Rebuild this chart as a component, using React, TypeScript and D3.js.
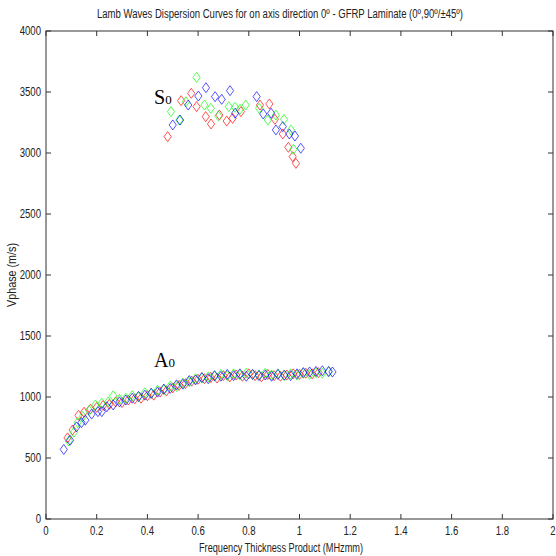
import React from "react";
import * as d3 from "d3";

const title = "Lamb Waves Dispersion Curves for on axis direction 0º - GFRP Laminate (0º,90º/±45º)";
const xLabel = "Frequency Thickness Product (MHzmm)";
const yLabel = "Vphase (m/s)";
const xTicks = [0, 0.2, 0.4, 0.6, 0.8, 1, 1.2, 1.4, 1.6, 1.8, 2];
const yTicks = [0, 500, 1000, 1500, 2000, 2500, 3000, 3500, 4000];

const s0Red: [number, number][] = [
  [0.48, 3134], [0.533, 3429], [0.573, 3489], [0.594, 3380], [0.63, 3298], [0.651, 3238],
  [0.684, 3311], [0.713, 3262], [0.736, 3284], [0.769, 3339], [0.844, 3393], [0.881, 3402],
  [0.903, 3276], [0.934, 3156], [0.956, 3047], [0.973, 2970], [0.986, 2915],
];
const s0Green: [number, number][] = [
  [0.493, 3339], [0.526, 3270], [0.552, 3421], [0.594, 3620], [0.625, 3393], [0.65, 3366],
  [0.68, 3303], [0.721, 3380], [0.746, 3375], [0.765, 3358], [0.788, 3393], [0.841, 3366],
  [0.875, 3270], [0.907, 3311], [0.939, 3276], [0.966, 3189], [0.976, 3030],
];
const s0Blue: [number, number][] = [
  [0.5, 3230], [0.529, 3270], [0.561, 3393], [0.601, 3467], [0.631, 3535], [0.667, 3462],
  [0.693, 3440], [0.726, 3511], [0.746, 3326], [0.831, 3462], [0.857, 3320], [0.888, 3326],
  [0.907, 3189], [0.934, 3216], [0.96, 3156], [0.982, 3139], [1.005, 3039],
];

const a0Red: [number, number][] = [
  [0.085, 665], [0.105, 730], [0.128, 850], [0.15, 875], [0.175, 900], [0.2, 915], [0.225, 930],
  [0.25, 940], [0.275, 960], [0.3, 955], [0.325, 975], [0.35, 985], [0.375, 990], [0.4, 1010],
  [0.425, 1015], [0.45, 1040], [0.475, 1050], [0.5, 1075], [0.525, 1095], [0.55, 1110],
  [0.575, 1130], [0.6, 1145], [0.625, 1150], [0.65, 1160], [0.675, 1155], [0.7, 1175],
  [0.725, 1165], [0.75, 1180], [0.775, 1170], [0.8, 1190], [0.825, 1175], [0.85, 1165],
  [0.875, 1185], [0.9, 1175], [0.925, 1170], [0.95, 1180], [0.975, 1190], [1.0, 1185],
  [1.025, 1195], [1.05, 1190], [1.075, 1200],
];
const a0Green: [number, number][] = [
  [0.09, 640], [0.11, 710], [0.125, 790], [0.145, 840], [0.17, 890], [0.195, 935], [0.22, 950],
  [0.245, 960], [0.265, 1010], [0.29, 980], [0.315, 990], [0.34, 1010], [0.365, 1000],
  [0.39, 1035], [0.415, 1030], [0.44, 1055], [0.465, 1060], [0.49, 1090], [0.515, 1085],
  [0.54, 1115], [0.565, 1125], [0.59, 1150], [0.615, 1155], [0.64, 1165], [0.665, 1170],
  [0.69, 1185], [0.715, 1175], [0.74, 1190], [0.765, 1180], [0.79, 1195], [0.815, 1185],
  [0.84, 1180], [0.865, 1195], [0.89, 1180], [0.915, 1190], [0.94, 1175], [0.965, 1190],
  [0.99, 1180], [1.015, 1195], [1.04, 1185], [1.065, 1200], [1.09, 1195], [1.115, 1205],
];
const a0Blue: [number, number][] = [
  [0.07, 570], [0.095, 645], [0.12, 755], [0.14, 790], [0.155, 810], [0.18, 860], [0.205, 880],
  [0.22, 880], [0.24, 920], [0.265, 935], [0.29, 960], [0.315, 975], [0.34, 990], [0.365, 1005],
  [0.39, 1015], [0.415, 1030], [0.44, 1040], [0.465, 1065], [0.49, 1070], [0.515, 1100],
  [0.54, 1105], [0.565, 1135], [0.59, 1140], [0.615, 1160], [0.64, 1150], [0.665, 1175],
  [0.69, 1170], [0.715, 1185], [0.74, 1175], [0.765, 1190], [0.79, 1170], [0.815, 1185],
  [0.84, 1175], [0.865, 1180], [0.89, 1170], [0.915, 1185], [0.94, 1180], [0.965, 1175],
  [0.99, 1190], [1.015, 1200], [1.04, 1205], [1.065, 1210], [1.09, 1215], [1.115, 1210],
  [1.13, 1205],
];

const series = [
  { data: a0Red, color: "#ff0000" },
  { data: a0Green, color: "#00ff00" },
  { data: a0Blue, color: "#0000ff" },
  { data: s0Red, color: "#ff0000" },
  { data: s0Green, color: "#00ff00" },
  { data: s0Blue, color: "#0000ff" },
];

const W = 556, H = 556;
const L = 46, R = 553, T = 31, B = 519;

export default function App() {
  const x = d3.scaleLinear().domain([0, 2]).range([L, R]);
  const y = d3.scaleLinear().domain([0, 4000]).range([B, T]);
  const diamond = "M0,-5L3.6,0L0,5L-3.6,0Z";
  const font = "'Liberation Sans', Arial, sans-serif";
  const axisColor = "#333";
  const sx = 0.8;
  return (
    <div style={{ position: "fixed", left: 0, top: 0 }}>
      <svg width={W} height={H} style={{ display: "block", background: "#fff" }}>
        <rect x={0} y={0} width={W} height={H} fill="#fff" />
        <text x={280} y={18} fontFamily={font} fontSize={12} textAnchor="middle"
          textLength={366} lengthAdjust="spacingAndGlyphs" fill="#222">{title}</text>
        {series.map((s, i) => (
          <g key={i}>
            {s.data.map((d, j) => (
              <path key={j} d={diamond} transform={`translate(${x(d[0])},${y(d[1])})`}
                fill="none" stroke={s.color} strokeWidth={0.8} opacity={0.85} />
            ))}
          </g>
        ))}
        <rect x={L} y={T} width={R - L} height={B - T} fill="none" stroke={axisColor} strokeWidth={1} />
        {xTicks.map((t) => (
          <g key={"x" + t}>
            <line x1={x(t)} x2={x(t)} y1={B} y2={B - 5} stroke={axisColor} />
            <line x1={x(t)} x2={x(t)} y1={T} y2={T + 5} stroke={axisColor} />
            <text transform={`translate(${x(t)},535) scale(${sx},1)`} fontFamily={font} fontSize={12}
              textAnchor="middle" fill="#222">{String(t)}</text>
          </g>
        ))}
        {yTicks.map((t) => (
          <g key={"y" + t}>
            <line x1={L} x2={L + 5} y1={y(t)} y2={y(t)} stroke={axisColor} />
            <line x1={R} x2={R - 5} y1={y(t)} y2={y(t)} stroke={axisColor} />
            <text transform={`translate(41,${y(t) + 4}) scale(${sx},1)`} fontFamily={font} fontSize={12}
              textAnchor="end" fill="#222">{String(t)}</text>
          </g>
        ))}
        <text x={281} y={552} fontFamily={font} fontSize={12.5} textAnchor="middle"
          textLength={164} lengthAdjust="spacingAndGlyphs" fill="#222">{xLabel}</text>
        <text transform={`translate(16,275) rotate(-90)`} fontFamily={font} fontSize={12.5}
          textAnchor="middle" textLength={64} lengthAdjust="spacingAndGlyphs" fill="#222">{yLabel}</text>
        <text x={154} y={104} fontFamily="'Liberation Serif', 'Times New Roman', serif" fontSize={20} fill="#000">
          S<tspan fontSize={13} dy={0}>0</tspan>
        </text>
        <text x={154} y={367} fontFamily="'Liberation Serif', 'Times New Roman', serif" fontSize={20} fill="#000">
          A<tspan fontSize={13} dy={0}>0</tspan>
        </text>
      </svg>
    </div>
  );
}
